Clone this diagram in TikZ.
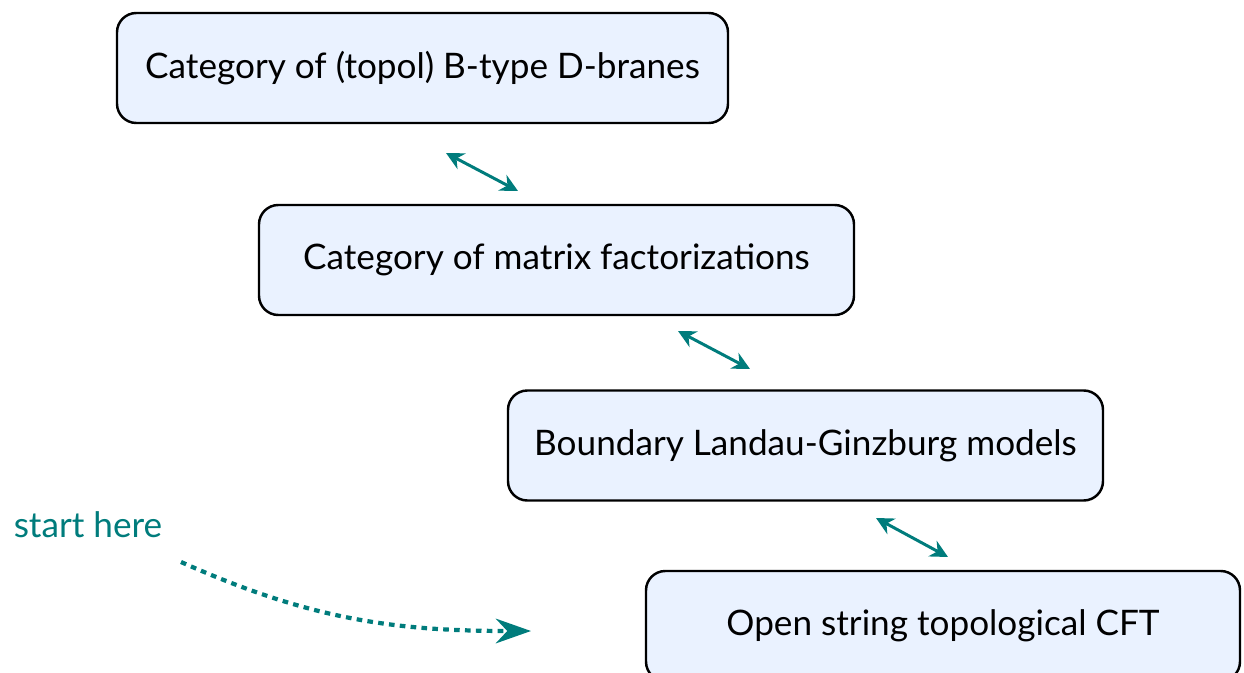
\documentclass[tikz,border=0pt]{standalone}
\usepackage{fontspec}
\setmainfont{Lato}
\usepackage{tikz}
\usetikzlibrary{arrows.meta,positioning}
\definecolor{tealarrow}{RGB}{0,124,124}
\definecolor{boxfill}{RGB}{234,242,255}
\tikzset{
    layerbox/.style={draw, line width=0.7pt, rounded corners=5.5pt, fill=boxfill, align=center, font=\fontsize{10}{12}\selectfont, minimum height=1.1cm},
    equivarrow/.style={{Stealth[length=5pt,width=5pt]}-{Stealth[length=5pt,width=5pt]}, tealarrow, line width=0.85pt},
    hintarrow/.style={-{Stealth[length=10pt,width=7pt]}, tealarrow, line width=1.2pt, dash pattern=on 1.6pt off 1.5pt},
    hinttext/.style={text=tealarrow, font=\fontsize{10}{12}\selectfont}
}
\begin{document}
\begin{tikzpicture}
        \useasboundingbox (0,0) rectangle (12.44,-6.73);

        \node[layerbox, minimum width=6.11cm] (dbranes) at (4.225,-0.68) {Category of (topol) B-type D-branes};
        \node[layerbox, minimum width=5.95cm] (matfact) at (5.565,-2.60) {Category of matrix factorizations};
        \node[layerbox, minimum width=5.95cm] (lgmodels) at (8.055,-4.455) {Boundary Landau-Ginzburg models};
        \node[layerbox, minimum width=5.94cm] (tcft) at (9.43,-6.26) {Open string topological CFT};

        \node[hinttext] (start) at (0.88,-5.25) {start here};
        \coordinate (dotstart) at (1.81,-5.62);
        \coordinate (dotend) at (5.31,-6.31);

        % equivalences between the layers
        \draw[equivarrow] (4.46,-1.53) -- (5.18,-1.91);
        \draw[equivarrow] (6.78,-3.31) -- (7.50,-3.69);
        \draw[equivarrow] (8.76,-5.18) -- (9.48,-5.57);

        \draw[hintarrow] (dotstart) to[out=-24, in=180] (dotend);
    \end{tikzpicture}
\end{document}
